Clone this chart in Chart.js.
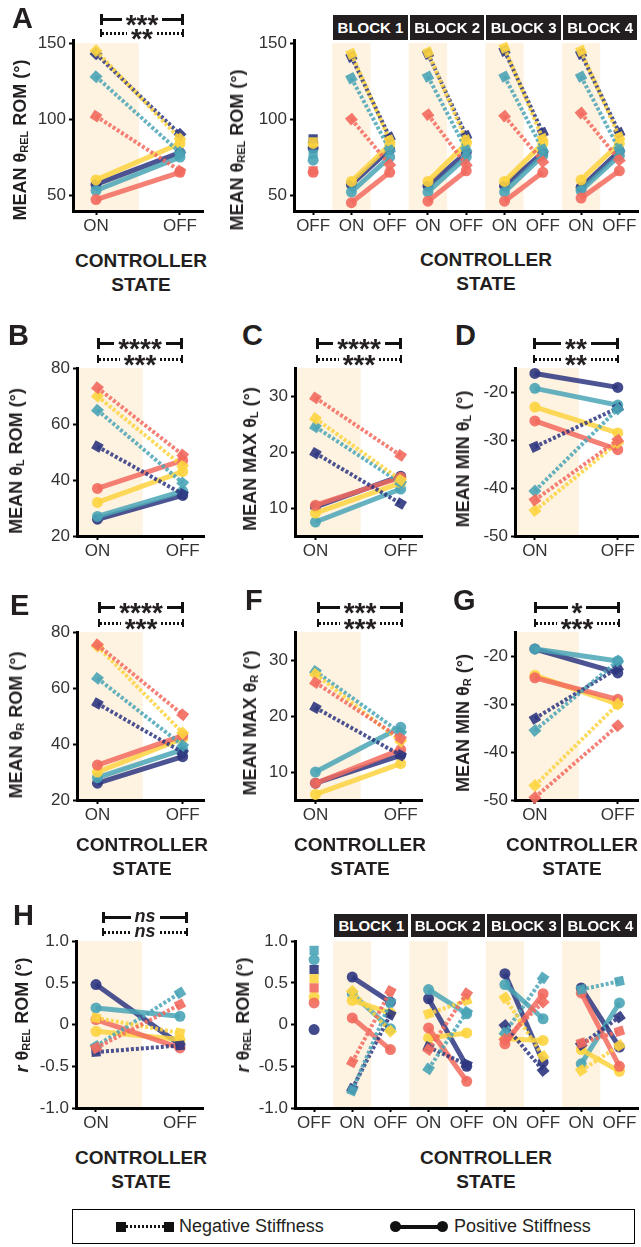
<!DOCTYPE html>
<html><head><meta charset="utf-8">
<script src="https://cdn.jsdelivr.net/npm/chart.js@4.4.1/dist/chart.umd.min.js"></script>
<style>
html,body{margin:0;padding:0;background:#fff;}
#fig{position:relative;width:641px;height:1247px;overflow:hidden;font-family:"Liberation Sans",Arial,sans-serif;color:#231f20;}
canvas{position:absolute;}
.letter{position:absolute;font-weight:bold;font-size:29px;line-height:29px;}
.ytitle{position:absolute;font-weight:bold;font-size:18px;line-height:20px;white-space:nowrap;transform:translate(-50%,-50%) rotate(-90deg);}
.ytitle sub{font-size:11px;vertical-align:-2px;}
.xtitle{position:absolute;font-weight:bold;font-size:19px;line-height:24px;text-align:center;transform:translateX(-50%);white-space:nowrap;}
.block{position:absolute;background:#231f20;color:#fff;font-weight:bold;font-size:15px;text-align:center;white-space:nowrap;}
.sig{position:absolute;height:16px;display:flex;align-items:center;}
.sig .ln{flex:1;height:3px;background:#111;}
.sig.dot .ln{height:3px;background:repeating-linear-gradient(90deg,#111 0 2px,transparent 2px 4px);}
.sig .cap{width:3px;height:11px;background:#111;}
.sig.dot .cap{width:2px;height:8px;}
.sig .lab{font-weight:bold;font-size:28px;line-height:16px;padding:0 4px;position:relative;top:6px;color:#231f20;}
.sig .lab.ns{font-style:italic;font-size:18px;top:-1px;}
#legend{position:absolute;left:72px;top:1209px;width:561px;height:33px;border:1.5px solid #000;}
#legend .txt{position:absolute;top:0;line-height:33px;font-size:18px;white-space:nowrap;}
.sq{position:absolute;width:10px;height:10px;background:#111;}
.cc{position:absolute;width:11px;height:11px;border-radius:50%;background:#111;}
</style>
</head>
<body>
<div id="fig"></div>
<script>
// ---------------- DATA ----------------
// series order in every array: coral, yellow, teal, navy (one colour per participant)
const xLabels2 = ['ON', 'OFF'];
const xLabels9 = ['OFF', 'ON', 'OFF', 'ON', 'OFF', 'ON', 'OFF', 'ON', 'OFF'];
const blockNames = ['BLOCK 1', 'BLOCK 2', 'BLOCK 3', 'BLOCK 4'];

const relTicks = [50, 100, 150];
const romTicks = [20, 40, 60, 80];
const maxTicks = [10, 20, 30];
const minTicks = [-50, -40, -30, -20];
const rTicks = [-1, -0.5, 0, 0.5, 1];
const rTickLabels = ['-1.0', '-0.5', '0', '0.5', '1.0'];

// A (left): mean theta_REL ROM
const A_negON = [102, 145, 128, 143];
const A_negOFF = [66, 87, 78, 90];
const A_posON = [47, 60, 53, 57];
const A_posOFF = [65, 84, 75, 78];

// A (right): baseline OFF, then blocks 1-4 (rows = blocks)
const AR_baseNeg = [66, 85, 77, 87];
const AR_basePos = [65, 84, 73, 81];
const AR_negON = [[100, 143, 127, 141], [103, 144, 128, 143], [102, 147, 128, 145], [104, 145, 128, 143]];
const AR_negOFF = [[70, 86, 80, 88], [70, 86, 80, 89], [72, 87, 80, 91], [73, 88, 80, 91]];
const AR_posON = [[45, 59, 52, 57], [46, 59, 52, 56], [46, 59, 52, 56], [48, 60, 53, 55]];
const AR_posOFF = [[65, 83, 75, 80], [66, 84, 75, 78], [65, 84, 76, 78], [66, 84, 76, 79]];

// B: mean theta_L ROM
const B_negON = [73, 70, 65, 52];
const B_negOFF = [49, 45, 39, 35];
const B_posON = [37, 32, 27, 26];
const B_posOFF = [47, 43, 36, 34.5];
// C: mean max theta_L
const C_negON = [29.7, 26, 24.5, 19.8];
const C_negOFF = [19.4, 15, 14.5, 10.8];
const C_posON = [10.5, 9.1, 7.5, 10.2];
const C_posOFF = [15.5, 14.5, 13.4, 15.7];
// D: mean min theta_L
const D_negON = [-42.5, -44.7, -40.6, -31.4];
const D_negOFF = [-30, -30.5, -23.5, -23.3];
const D_posON = [-26, -23.1, -19.2, -16.1];
const D_posOFF = [-32, -28.5, -22.7, -19];
// E: mean theta_R ROM
const E_negON = [75.5, 75, 63.5, 54.5];
const E_negOFF = [50.5, 44, 39.5, 37];
const E_posON = [32.5, 30, 28, 26];
const E_posOFF = [43, 42, 38, 35.5];
// F: mean max theta_R
const F_negON = [26, 27.5, 28, 21.5];
const F_negOFF = [16, 15.5, 17, 13];
const F_posON = [8, 6, 10, 8];
const F_posOFF = [14, 11.5, 18, 13];
// G: mean min theta_R
const G_negON = [-49.5, -47, -35.5, -33];
const G_negOFF = [-34.5, -30, -21, -22.5];
const G_posON = [-24.5, -24, -18.5, -18.5];
const G_posOFF = [-29, -30, -21, -23.5];
// H (left): r theta_REL ROM
const H_negON = [-0.28, 0.08, -0.26, -0.33];
const H_negOFF = [0.24, -0.1, 0.38, -0.25];
const H_posON = [0.06, -0.08, 0.2, 0.48];
const H_posOFF = [-0.28, -0.18, 0.1, -0.24];
// H (right)
const HR_baseNeg = [0.44, 0.55, 0.89, 0.66];
const HR_basePos = [0.26, 0.33, 0.78, -0.06];
const HR_negON = [[-0.45, 0.40, -0.79, -0.77], [-0.30, 0.13, -0.53, -0.27], [-0.18, 0.32, -0.10, -0.01], [-0.22, -0.55, 0.42, -0.24]];
const HR_negOFF = [[0.40, -0.08, 0.27, 0.12], [0.37, 0.29, 0.15, -0.48], [0.27, -0.38, 0.56, -0.55], [-0.08, -0.25, 0.52, 0.09]];
const HR_posON = [[0.08, 0.29, 0.37, 0.57], [-0.04, -0.16, 0.42, 0.31], [-0.23, -0.17, 0.48, 0.61], [0.38, -0.30, -0.47, 0.44]];
const HR_posOFF = [[-0.30, 0.14, -0.05, 0.27], [-0.68, -0.10, 0.13, -0.50], [0.37, -0.19, 0.07, -0.45], [-0.50, -0.56, 0.26, -0.27]];

// ---------------- STYLE ----------------
const FONT = "'Liberation Sans', Arial, sans-serif";
const COL = ['#F26A5E', '#FDD43F', '#4AA4B6', '#2D3680'];
const SHADE = '#FEF2E0';
const fig = document.getElementById('fig');
function rgba(hex, a) { const n = parseInt(hex.slice(1), 16); return `rgba(${n >> 16},${(n >> 8) & 255},${n & 255},${a})`; }

function rot(ctx) {
  const d = ctx.dataset && ctx.dataset.data; if (!d || d.length < 2) return 0;
  const xs = ctx.chart.scales.x, ys = ctx.chart.scales.y; if (!xs || !ys) return 0;
  const dx = xs.getPixelForValue(d[1].x) - xs.getPixelForValue(d[0].x);
  const dy = ys.getPixelForValue(d[1].y) - ys.getPixelForValue(d[0].y);
  const a = Math.atan2(dy, dx) * 180 / Math.PI;
  return isFinite(a) ? a : 0;
}
function lineSet(pts, ci, neg) {
  return {
    data: pts, showLine: pts.length > 1, clip: false, tension: 0,
    borderColor: rgba(COL[ci], 0.85), borderWidth: neg ? 4 : 5, borderDash: neg ? [3, 2] : [],
    borderCapStyle: 'butt',
    pointStyle: neg ? 'rect' : 'circle', pointRadius: neg ? 6.5 : 5.5, pointHoverRadius: 0,
    pointBackgroundColor: rgba(COL[ci], 0.9), pointBorderWidth: 0,
    pointRotation: rot, order: neg ? 0 : 1
  };
}
function pairs(xOn, xOff, onArr, offArr, neg) {
  return onArr.map((v, i) => lineSet([{ x: xOn, y: v }, { x: xOff, y: offArr[i] }], i, neg));
}
function twoState(negON, negOFF, posON, posOFF) {
  return [...pairs(0, 1, negON, negOFF, true), ...pairs(0, 1, posON, posOFF, false)];
}
function blocks(baseNeg, basePos, negON, negOFF, posON, posOFF) {
  const ds = [];
  for (let b = 0; b < 4; b++) {
    ds.push(...pairs(2 * b + 1, 2 * b + 2, negON[b], negOFF[b], true));
    ds.push(...pairs(2 * b + 1, 2 * b + 2, posON[b], posOFF[b], false));
  }
  baseNeg.forEach((v, i) => ds.push(lineSet([{ x: 0, y: v }], i, true)));
  basePos.forEach((v, i) => ds.push(lineSet([{ x: 0, y: v }], i, false)));
  return ds;
}

const YW = 50, PT = 12, XH = 34;
function makePanel(o) {
  const PR = o.pr != null ? o.pr : 8;
  const W = YW + o.plotW + PR, H = PT + o.plotH + XH;
  const left = o.axisX - YW, top = o.plotTop - PT;
  const cv = document.createElement('canvas');
  cv.width = W; cv.height = H;
  Object.assign(cv.style, { left: left + 'px', top: top + 'px', width: W + 'px', height: H + 'px' });
  fig.appendChild(cv);
  const tickFont = { family: FONT, size: 17 };
  const grid = { display: true, drawOnChartArea: false, drawTicks: true, tickLength: 4, tickWidth: 2, tickColor: '#000' };
  const border = { display: true, width: 3, color: '#000' };
  const chart = new Chart(cv, {
    type: 'line',
    data: { datasets: o.datasets },
    options: {
      responsive: false, animation: false, events: [],
      layout: { padding: { top: PT, right: PR, left: 0, bottom: 0 } },
      plugins: { legend: { display: false }, tooltip: { enabled: false } },
      scales: {
        x: {
          type: 'linear', min: o.xMin, max: o.xMax,
          afterBuildTicks: s => { s.ticks = o.xTicks.map(v => ({ value: v })); },
          afterFit: s => { s.height = XH; },
          ticks: { callback: (v, i) => o.xLabels[i], font: tickFont, color: '#333', padding: 1, maxRotation: 0, autoSkip: false },
          grid, border
        },
        y: {
          type: 'linear', min: o.yMin, max: o.yMax,
          afterBuildTicks: s => { s.ticks = o.yTicks.map(v => ({ value: v })); },
          afterFit: s => { s.width = YW; },
          ticks: { callback: (v, i) => o.yLabels[i], font: tickFont, color: '#333', padding: 3, autoSkip: false },
          grid, border
        }
      }
    },
    plugins: [{
      id: 'shade',
      beforeDraw(ch) {
        const { ctx, chartArea: ca, scales: { x, y } } = ch;
        ctx.save(); ctx.fillStyle = SHADE;
        const yt = y.getPixelForValue(o.shadeTop != null ? o.shadeTop : o.yMax);
        o.shade.forEach(r => {
          const x0 = x.getPixelForValue(r[0]), x1 = x.getPixelForValue(r[1]);
          ctx.fillRect(x0, yt, x1 - x0, ca.bottom - yt);
        });
        ctx.restore();
      }
    }]
  });
  return { chart, left, top };
}

function addDiv(cls, html, style) {
  const d = document.createElement('div'); d.className = cls; d.innerHTML = html;
  Object.assign(d.style, style); fig.appendChild(d); return d;
}
function letter(t, x, capTop) { addDiv('letter', t, { left: x + 'px', top: (capTop - 4) + 'px' }); }
function ytitle(html, cx, cy) { addDiv('ytitle', html, { left: cx + 'px', top: cy + 'px' }); }
function xtitle(cx, top) { addDiv('xtitle', 'CONTROLLER<br>STATE', { left: cx + 'px', top: top + 'px' }); }
function sigBar(x1, x2, y, text, dotted, ns) {
  const d = addDiv('sig' + (dotted ? ' dot' : ''),
    `<div class="cap"></div><div class="ln"></div><span class="lab${ns ? ' ns' : ''}">${text}</span><div class="ln"></div><div class="cap"></div>`,
    { left: x1 + 'px', width: (x2 - x1) + 'px', top: (y - 8) + 'px' });
  return d;
}
function blockLabels(p, top, h) {
  const xs = p.chart.scales.x;
  blockNames.forEach((n, b) => {
    const x0 = p.left + xs.getPixelForValue(2 * b + 0.5) + 1;
    const x1 = p.left + xs.getPixelForValue(2 * b + 2.5) - 1;
    addDiv('block', n, { left: x0 + 'px', top: top + 'px', width: (x1 - x0) + 'px', height: h + 'px', lineHeight: h + 'px' });
  });
}
const shade2A = [[-0.274, 0.51]];
const shade2 = [[-0.24, 0.53]];
const shade9 = [[0.5, 1.5], [2.5, 3.5], [4.5, 5.5], [6.5, 7.5]];
const x9 = [0, 1, 2, 3, 4, 5, 6, 7, 8];

// ---------------- ROW 1 : A ----------------
makePanel({ axisX: 73, plotTop: 39, plotW: 130, plotH: 172, xMin: -0.274, xMax: 1.274, xTicks: [0, 1], xLabels: xLabels2,
  yMin: 39.5, yMax: 152, yTicks: relTicks, yLabels: relTicks.map(String), shade: shade2A, shadeTop: 150,
  datasets: twoState(A_negON, A_negOFF, A_posON, A_posOFF) });
const pAR = makePanel({ axisX: 294, plotTop: 39, plotW: 347, plotH: 172, pr: 4, xMin: -0.5, xMax: 8.5, xTicks: x9, xLabels: xLabels9,
  yMin: 39.5, yMax: 152, yTicks: relTicks, yLabels: relTicks.map(String), shade: shade9, shadeTop: 150,
  datasets: blocks(AR_baseNeg, AR_basePos, AR_negON, AR_negOFF, AR_posON, AR_posOFF) });
blockLabels(pAR, 15, 25);
letter('A', 12, 8);
ytitle('MEAN θ<sub>REL</sub> ROM (°)', 22, 140);
ytitle('MEAN θ<sub>REL</sub> ROM (°)', 239, 150);
xtitle(141, 249); xtitle(486, 248);
sigBar(100, 184, 19, '***', false); sigBar(100, 184, 33, '**', true);

// ---------------- ROW 2 : B C D ----------------
const row2 = 367, row3 = 631, rowH = 169;
makePanel({ axisX: 77, plotTop: row2, plotW: 127, plotH: rowH, xMin: -0.24, xMax: 1.25, xTicks: [0, 1], xLabels: xLabels2,
  yMin: 20, yMax: 80, yTicks: romTicks, yLabels: romTicks.map(String), shade: shade2, datasets: twoState(B_negON, B_negOFF, B_posON, B_posOFF) });
makePanel({ axisX: 295, plotTop: row2, plotW: 127, plotH: rowH, xMin: -0.24, xMax: 1.25, xTicks: [0, 1], xLabels: xLabels2,
  yMin: 5, yMax: 35, yTicks: maxTicks, yLabels: maxTicks.map(String), shade: shade2, datasets: twoState(C_negON, C_negOFF, C_posON, C_posOFF) });
makePanel({ axisX: 515, plotTop: row2, plotW: 126, plotH: rowH, pr: 4, xMin: -0.24, xMax: 1.25, xTicks: [0, 1], xLabels: xLabels2,
  yMin: -50, yMax: -15, yTicks: minTicks, yLabels: minTicks.map(String), shade: shade2, datasets: twoState(D_negON, D_negOFF, D_posON, D_posOFF) });
letter('B', 8, 325); letter('C', 242, 325); letter('D', 455, 325);
ytitle('MEAN θ<sub>L</sub> ROM (°)', 18, 461);
ytitle('MEAN MAX θ<sub>L</sub> (°)', 252, 459);
ytitle('MEAN MIN θ<sub>L</sub> (°)', 465, 459);
sigBar(97, 183, 343, '****', false); sigBar(97, 183, 359, '***', true);
sigBar(316, 402, 343, '****', false); sigBar(316, 402, 359, '***', true);
sigBar(533, 619, 343, '**', false); sigBar(533, 619, 359, '**', true);

// ---------------- ROW 3 : E F G ----------------
makePanel({ axisX: 77, plotTop: row3, plotW: 127, plotH: rowH, xMin: -0.24, xMax: 1.25, xTicks: [0, 1], xLabels: xLabels2,
  yMin: 20, yMax: 80, yTicks: romTicks, yLabels: romTicks.map(String), shade: shade2, datasets: twoState(E_negON, E_negOFF, E_posON, E_posOFF) });
makePanel({ axisX: 295, plotTop: row3, plotW: 127, plotH: rowH, xMin: -0.24, xMax: 1.25, xTicks: [0, 1], xLabels: xLabels2,
  yMin: 5, yMax: 35, yTicks: maxTicks, yLabels: maxTicks.map(String), shade: shade2, datasets: twoState(F_negON, F_negOFF, F_posON, F_posOFF) });
makePanel({ axisX: 515, plotTop: row3, plotW: 126, plotH: rowH, pr: 4, xMin: -0.24, xMax: 1.25, xTicks: [0, 1], xLabels: xLabels2,
  yMin: -50, yMax: -15, yTicks: minTicks, yLabels: minTicks.map(String), shade: shade2, datasets: twoState(G_negON, G_negOFF, G_posON, G_posOFF) });
letter('E', 10, 595); letter('F', 245, 590); letter('G', 453, 590);
ytitle('MEAN θ<sub>R</sub> ROM (°)', 18, 725);
ytitle('MEAN MAX θ<sub>R</sub> (°)', 252, 723);
ytitle('MEAN MIN θ<sub>R</sub> (°)', 465, 723);
xtitle(142, 833); xtitle(360, 833); xtitle(572, 833);
sigBar(98, 184, 607, '****', false); sigBar(98, 184, 623, '***', true);
sigBar(317, 403, 607, '***', false); sigBar(317, 403, 623, '***', true);
sigBar(534, 620, 607, '*', false); sigBar(534, 620, 623, '***', true);

// ---------------- ROW 4 : H ----------------
makePanel({ axisX: 76, plotTop: 940, plotW: 127, plotH: 168, xMin: -0.238, xMax: 1.274, xTicks: [0, 1], xLabels: xLabels2,
  yMin: -1, yMax: 1, yTicks: rTicks, yLabels: rTickLabels, shade: [[-0.238, 0.55]], datasets: twoState(H_negON, H_negOFF, H_posON, H_posOFF) });
const pHR = makePanel({ axisX: 295, plotTop: 940, plotW: 346, plotH: 168, pr: 4, xMin: -0.5, xMax: 8.5, xTicks: x9, xLabels: xLabels9,
  yMin: -1, yMax: 1, yTicks: rTicks, yLabels: rTickLabels, shade: shade9,
  datasets: blocks(HR_baseNeg, HR_basePos, HR_negON, HR_negOFF, HR_posON, HR_posOFF) });
blockLabels(pHR, 914, 23);
letter('H', 13, 905);
ytitle('<i>r</i> θ<sub>REL</sub> ROM (°)', 24, 1015);
ytitle('<i>r</i> θ<sub>REL</sub> ROM (°)', 245, 1015);
xtitle(141, 1146); xtitle(486, 1146);
sigBar(102, 188, 917, 'ns', false, true); sigBar(102, 188, 932, 'ns', true, true);

// ---------------- LEGEND ----------------
const lg = addDiv('', '', {}); lg.id = 'legend';
lg.innerHTML =
  '<div class="sq" style="left:43px;top:11.5px"></div>' +
  '<div style="position:absolute;left:53px;top:15px;width:38px;height:3px;background:repeating-linear-gradient(90deg,#111 0 2px,transparent 2px 4px)"></div>' +
  '<div class="sq" style="left:91px;top:11.5px"></div>' +
  '<div class="txt" style="left:106px">Negative Stiffness</div>' +
  '<div class="cc" style="left:317px;top:11px"></div>' +
  '<div style="position:absolute;left:327px;top:14.5px;width:38px;height:4px;background:#111"></div>' +
  '<div class="cc" style="left:364px;top:11px"></div>' +
  '<div class="txt" style="left:381px">Positive Stiffness</div>';
</script>
</body></html>
